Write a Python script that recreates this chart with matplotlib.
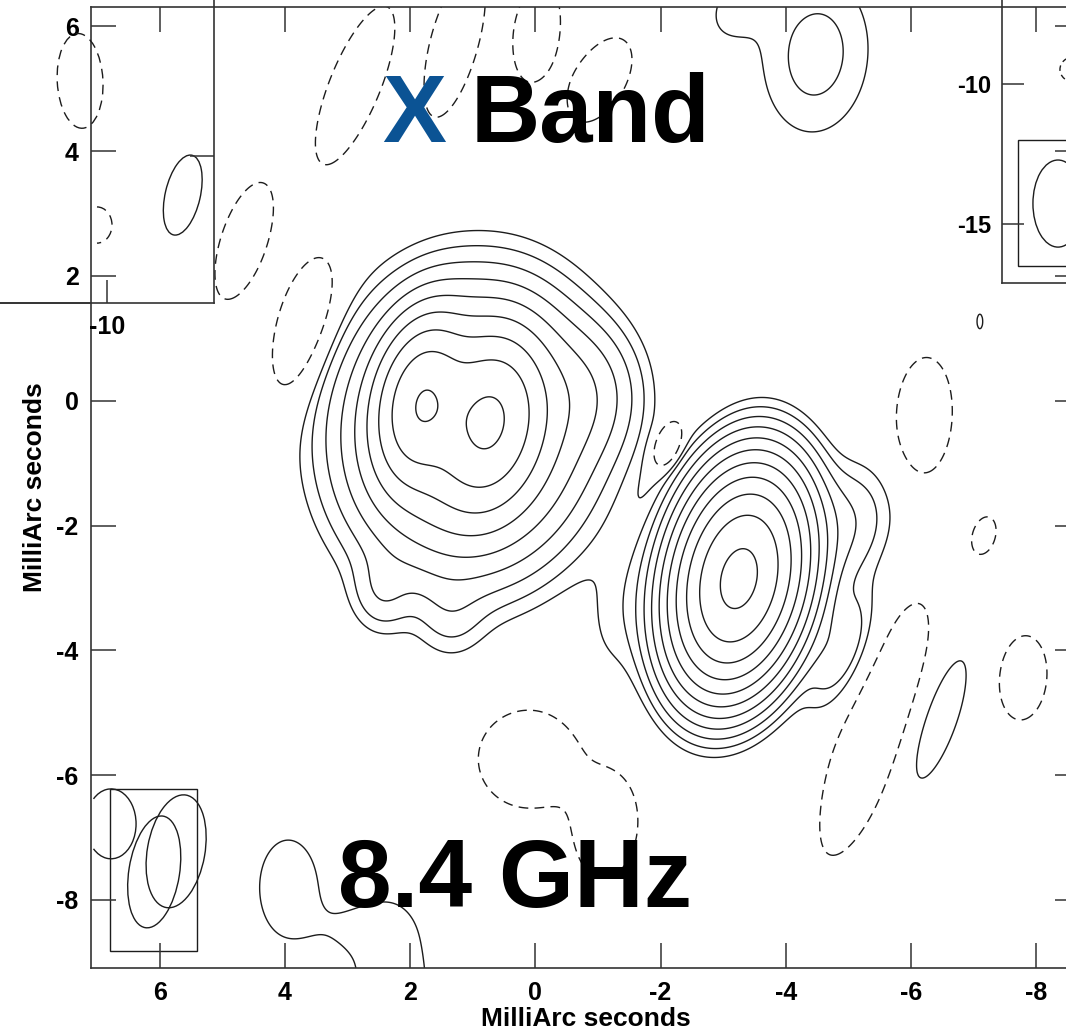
import numpy as np
import matplotlib
matplotlib.use("Agg")
import matplotlib.pyplot as plt
from matplotlib.patches import Ellipse, Arc, Rectangle
from matplotlib.lines import Line2D

plt.rcParams['font.family'] = ['Liberation Sans', 'DejaVu Sans']
plt.rcParams['font.weight'] = 'bold'
plt.rcParams['axes.unicode_minus'] = False

W, H = 1066, 1034

# ---------------------------------------------------------------------------
# Map model: elliptical Gaussian components (mas), amplitudes in units of the
# lowest contour.  Negative amplitudes are the sidelobe / noise features.
# ---------------------------------------------------------------------------
comp_x = [-3.25, -2.90, -1.50, -4.90, -4.88,
          1.82, 0.73, 1.05, -0.70, 2.45, 1.35,
          -4.48, -3.20, -6.44, -7.10, 3.95, 2.30, 2.90,
          3.68, 4.66, 2.88, 1.29, -0.02, -1.03, -6.21, -7.17, -7.79,
          -5.42, 0.10, -1.13, -2.11]
comp_y = [-2.85, -1.45, -3.20, -2.00, -3.97,
          -0.03, -0.33, -0.45, 0.10, -3.05, -3.40,
          5.55, 6.30, -5.11, 1.27, -7.80, -9.40, -8.45,
          1.17, 2.56, 5.06, 5.75, 5.90, 5.14, -0.24, -2.16, -4.44,
          -5.26, -5.74, -6.82, -0.71]
comp_amp = [1250, 3, 1.5, 4, 3.5,
            200, 200, 100, 10, 3, 2,
            2.6, 1.3, 2.0, 1.25, 1.8, 1.8, 0.8,
            -2.5, -2.5, -2.5, -2.5, -2.5, -2.5, -2.5, -2.5, -2.5,
            -2.5, -2.5, -2.5, -5.0]
comp_smin = [0.45, 0.35, 0.45, 0.45, 0.28,
             0.36, 0.42, 0.90, 0.50, 0.30, 0.35,
             0.60, 0.35, 0.25, 0.07, 0.42, 0.50, 0.50,
             0.35, 0.27, 0.30, 0.28, 0.27, 0.30, 0.33, 0.13, 0.28,
             0.40, 0.60, 0.37, 0.13]
comp_smaj = [0.77, 0.70, 0.90, 0.60, 0.65,
             0.65, 0.70, 1.05, 0.60, 0.40, 0.45,
             0.90, 0.50, 0.93, 0.18, 0.70, 1.10, 0.30,
             0.88, 0.72, 1.00, 0.92, 0.59, 0.55, 0.69, 0.22, 0.50,
             1.58, 0.58, 0.61, 0.24]
comp_pa = [12, 30, 15, 20, 20,
           10, 10, 10, 0, 0, 0,
           5, 30, 19.5, 0, 0, 0, 0,
           15, 18, 22, 15, 8, 30, 3, 15, 5,
           19.5, 0, 5, 20]

contour_levels = [-1, 1, 2, 4, 8, 16, 32, 64, 128, 256, 512, 1024]

xtick_vals = [6, 4, 2, 0, -2, -4, -6, -8]
ytick_vals = [6, 4, 2, 0, -2, -4, -6, -8]

# restoring beams drawn in the lower-left box: x, y, width, height, angle
beam_x = [6.09, 5.74]
beam_y = [-7.55, -7.22]
beam_w = [0.81, 0.92]
beam_h = [1.81, 1.83]
beam_pa = [9, 10]


def px_rect(x0, x1, y_top, y_bot):
    return [x0 / W, 1 - y_bot / H, (x1 - x0) / W, (y_bot - y_top) / H]


fig = plt.figure(figsize=(W / 100, H / 100), dpi=100)
fig.patch.set_facecolor('white')

ax = fig.add_axes(px_rect(91, 1080, 7, 968))

gx = np.linspace(-9.0, 7.5, 826)
gy = np.linspace(-10.0, 7.0, 851)
X, Y = np.meshgrid(gx, gy)
F = np.zeros_like(X)
for x0, y0, a, s1, s2, pa in zip(comp_x, comp_y, comp_amp, comp_smin,
                                 comp_smaj, comp_pa):
    t = np.deg2rad(pa)
    dx, dy = X - x0, Y - y0
    u = dx * np.cos(t) + dy * np.sin(t)
    v = -dx * np.sin(t) + dy * np.cos(t)
    F += a * np.exp(-0.5 * ((u / s1) ** 2 + (v / s2) ** 2))

line_col = '#1c1c1c'
ax.contour(X, Y, F, levels=[l for l in contour_levels if l < 0],
           colors=line_col, linewidths=1.0, linestyles=[(0, (7, 4.5))])
ax.contour(X, Y, F, levels=[l for l in contour_levels if l > 0],
           colors=line_col, linewidths=1.0, linestyles='solid')

ax.set_xlim(7.10, -8.70)
ax.set_ylim(-9.09, 6.31)
ax.set_xticks(xtick_vals)
ax.set_yticks(ytick_vals)
ax.tick_params(direction='in', length=18, width=1.1, top=True, right=True,
               labelsize=18, pad=9, color='#333333')
for s in ax.spines.values():
    s.set_linewidth(1.2)
    s.set_color('#333333')
ax.set_xlabel('MilliArc seconds', fontsize=19, fontweight='bold', labelpad=2)
ax.set_ylabel('MilliArc seconds', fontsize=19, fontweight='bold', labelpad=7)

# beam box
ax.add_patch(Rectangle((5.40, -8.81), 1.40, 2.59, fill=False, lw=1.0,
                       ec=line_col))
for bx, by, bw, bh, bp in zip(beam_x, beam_y, beam_w, beam_h, beam_pa):
    ax.add_patch(Ellipse((bx, by), bw, bh, angle=bp, fill=False, lw=1.0,
                         ec=line_col))
ax.add_patch(Arc((6.78, -6.78), 0.80, 1.12, theta1=55, theta2=305, lw=1.0,
                 ec=line_col))

# upper-left overlay panel
ins1 = fig.add_axes(px_rect(-5, 214, -2, 303))
ins1.set_facecolor('none')
ins1.set_xlim(-10 + 112 / 62.6, -10 - 107 / 62.6)
ins1.set_ylim((401 - 303) / 62.4, (401 + 2) / 62.4)
ins1.spines['left'].set_visible(False)
ins1.spines['top'].set_visible(False)
for s in ('right', 'bottom'):
    ins1.spines[s].set_linewidth(1.2)
    ins1.spines[s].set_color('#333333')
ins1.set_xticks([-10])
ins1.set_yticks([3.93])
ins1.tick_params(axis='x', direction='in', length=16.5, width=1.1,
                 labelsize=18, pad=9, color='#333333')
ins1.tick_params(axis='y', direction='in', length=17, width=1.1, left=False,
                 right=True, labelleft=False, color='#333333')
ins1.add_patch(Ellipse((-9.57, 5.13), 0.73, 1.52, angle=-3, fill=False,
                       lw=1.0, ec=line_col, ls=(0, (7, 4.5))))
ins1.add_patch(Ellipse((-11.21, 3.30), 0.56, 1.31, angle=13, fill=False,
                       lw=1.0, ec=line_col))
ins1.add_patch(Arc((-9.84, 2.82), 0.48, 0.58, theta1=90, theta2=270, lw=1.0,
                   ec=line_col, ls=(0, (7, 4.5))))
fig.add_artist(Line2D([0, 91 / W], [1 - 303 / H, 1 - 303 / H], lw=1.2,
                      color='#333333'))

# upper-right overlay panel
ins2 = fig.add_axes(px_rect(1002, 1200, -5, 283))
ins2.set_facecolor('none')
ins2.set_xlim(0, -198 / 28)
ins2.set_ylim(-10 - (283 - 84) / 28, -10 + (84 + 5) / 28)
ins2.spines['right'].set_visible(False)
ins2.spines['top'].set_visible(False)
for s in ('left', 'bottom'):
    ins2.spines[s].set_linewidth(1.2)
    ins2.spines[s].set_color('#333333')
ins2.set_xticks([])
ins2.set_yticks([-10, -15])
ins2.tick_params(direction='in', length=16, width=1.1, labelsize=17, pad=8,
                 color='#333333')
ins2.add_patch(Rectangle((-4.2, -16.5), 3.63, 4.5, fill=False, lw=1.0,
                         ec=line_col))
ins2.add_patch(Ellipse((-2.0, -14.27), 1.79, 3.11, fill=False, lw=1.0,
                       ec=line_col))
ins2.add_patch(Arc((-2.57, -9.48), 1.0, 0.9, theta1=-90, theta2=90, lw=1.0,
                   ec=line_col, ls=(0, (4, 3))))

# titles
fig.text(382 / W, 1 - 141.7 / H, 'X', color='#0b5394', fontsize=69,
         fontweight='bold', ha='left', va='baseline', zorder=10)
fig.text(471 / W, 1 - 141.7 / H, 'Band', color='black', fontsize=69,
         fontweight='bold', ha='left', va='baseline', zorder=10)
fig.text(338 / W, 1 - 907 / H, '8.4 GHz', color='black', fontsize=69.5,
         fontweight='bold', ha='left', va='baseline', zorder=10)

fig.savefig('out.png', dpi=100, facecolor='white')
